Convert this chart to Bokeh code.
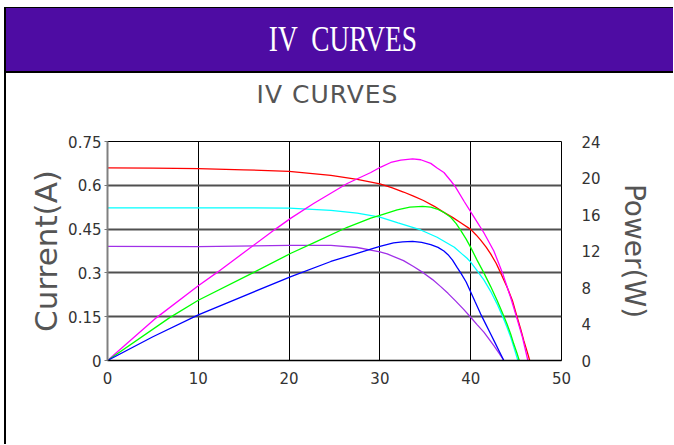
from bokeh.plotting import figure
from bokeh.models import Range1d, LinearAxis, FixedTicker, NumeralTickFormatter, Div
from bokeh.layouts import column, row
from bokeh.embed import file_html
from bokeh.resources import INLINE

# ---------------- data ----------------
voltage_ticks = [0, 10, 20, 30, 40, 50]
current_ticks = [0, 0.15, 0.3, 0.45, 0.6, 0.75]
power_ticks = [0, 4, 8, 12, 16, 20, 24]

# I-V curves (voltage V, current A)
red_v = [0, 5, 10, 15, 20, 24.6, 27.5, 30, 31.3, 32.6, 33.7, 34.8, 36.0, 37.0, 38.0, 38.9, 40.0, 40.6, 41.1,
         41.7, 42.2, 42.8, 43.3, 44.0, 44.6, 45.1, 45.5, 45.85, 46.2, 46.5]
red_i = [0.660, 0.659, 0.657, 0.653, 0.648, 0.634, 0.620, 0.605, 0.592, 0.577, 0.563, 0.548, 0.528, 0.508, 0.490,
         0.472, 0.449, 0.430, 0.412, 0.388, 0.365, 0.333, 0.300, 0.252, 0.205, 0.150, 0.108, 0.068, 0.032, 0.0]

cyan_v = [0, 10, 20, 24.6, 27.5, 30, 32, 34.5, 36.3, 37.2, 38.2, 39.0, 39.6, 40.0, 40.7, 41.45, 42.2, 42.9,
          43.5, 44.0, 44.4, 44.75, 45.2]
cyan_i = [0.523, 0.523, 0.522, 0.514, 0.505, 0.491, 0.471, 0.447, 0.422, 0.406, 0.388, 0.366, 0.350, 0.337,
          0.308, 0.276, 0.237, 0.194, 0.152, 0.114, 0.080, 0.046, 0.0]

violet_v = [0, 10, 20, 24.6, 27.5, 30, 30.8, 32.6, 33.7, 34.8, 35.8, 36.7, 37.5, 38.3, 39.2, 40.0, 40.7, 41.45,
            42.0, 42.55, 43.1, 43.65]
violet_i = [0.391, 0.390, 0.394, 0.394, 0.387, 0.372, 0.365, 0.342, 0.322, 0.300, 0.277, 0.253, 0.230, 0.205,
            0.176, 0.148, 0.123, 0.097, 0.074, 0.051, 0.026, 0.0]

# P-V curves (voltage V, power W)
magenta_v = [0, 5.4, 10, 12, 18.5, 20.2, 22.7, 26.4, 29, 30.1, 31.2, 32.3, 33.6, 34.5, 35.6, 36.3, 37.05, 37.8,
             38.3, 39.3, 40.35, 41.45, 42.55, 43.5, 44.4, 45.05, 45.7, 46.3]
magenta_p = [0, 4.7, 8.2, 9.6, 14.4, 15.6, 17.2, 19.4, 20.6, 21.2, 21.7, 21.95, 22.1, 22.0, 21.6, 21.1, 20.6, 19.7,
             19.05, 17.4, 15.75, 14.0, 12.0, 9.6, 6.9, 4.75, 2.55, 0]

green_v = [0, 6.85, 10, 16, 20.2, 22.7, 26.4, 29, 30, 31.9, 33.3, 34.7, 35.6, 36.3, 37.1, 37.8, 38.4, 38.9, 39.5,
           40, 40.7, 41.45, 42.2, 42.9, 43.5, 44.0, 44.4, 44.75, 45.1, 45.35]
green_p = [0, 4.7, 6.6, 9.6, 11.75, 12.9, 14.6, 15.6, 15.9, 16.5, 16.8, 16.9, 16.8, 16.6, 16.2, 15.7, 15.0, 14.25,
           13.3, 12.4, 11.0, 9.6, 8.1, 6.6, 5.2, 4.0, 2.9, 1.8, 0.8, 0]

blue_v = [0, 5, 10, 20.2, 24.6, 29, 30, 31.5, 32.5, 33.6, 34.6, 35.6, 36.4, 37.05, 37.5, 38.0, 38.5, 38.9, 39.5,
          40, 40.5, 41.1, 41.6, 42.2, 42.7, 43.1, 43.65]
blue_p = [0, 2.6, 5.0, 9.2, 10.85, 12.2, 12.5, 12.9, 13.0, 13.05, 12.95, 12.7, 12.4, 12.0, 11.6, 11.0, 10.2, 9.6,
          8.6, 7.5, 6.4, 5.1, 4.1, 2.9, 1.9, 1.1, 0]

header_title = "IV&nbsp;&nbsp;CURVES"
chart_title = "IV CURVES"

W = 667  # content width right of the left border line

# ---------------- header band ----------------
header = Div(
    text='<span style="display:inline-block;transform:scaleX(0.78);margin-left:6px;">' + header_title + '</span>',
    width=W, height=66, margin=0,
    styles={
        "box-sizing": "border-box",
        "background-color": "#4e0ca3",
        "border-top": "1px solid #000",
        "border-bottom": "2px solid #000",
        "color": "#ffffff",
        "font-family": "'Liberation Serif'",
        "font-size": "35px",
        "text-align": "center",
        "line-height": "63px",
        "overflow": "hidden",
    },
)

# ---------------- chart title ----------------
title_div = Div(
    text=chart_title,
    width=W, height=42, margin=0,
    styles={
        "box-sizing": "border-box",
        "background-color": "#ffffff",
        "color": "#555555",
        "font-family": "'DejaVu Sans'",
        "font-size": "25px",
        "letter-spacing": "1px",
        "text-align": "center",
        "line-height": "44px",
        "padding-right": "24px",
        "overflow": "hidden",
    },
)

left_line = Div(text="", width=2, height=437, margin=0, styles={"background-color": "#000000"})

# ---------------- chart ----------------
p = figure(
    width=W, height=329,
    x_range=Range1d(0, 50), y_range=Range1d(0, 0.75),
    output_backend="svg", toolbar_location=None,
    min_border_left=101, min_border_right=112, min_border_top=26, min_border_bottom=84,
)
p.extra_y_ranges = {"power": Range1d(0, 24)}

p.background_fill_color = "white"
p.border_fill_color = "white"
p.outline_line_color = "black"
p.outline_line_width = 1

TEXT = "#333333"
LABEL = "#555555"

# x axis
xa = p.xaxis[0]
xa.ticker = FixedTicker(ticks=voltage_ticks)
xa.major_tick_line_color = None
xa.minor_tick_line_color = None
xa.major_tick_out = 0
xa.major_label_standoff = 11
xa.major_label_text_font = "DejaVu Sans"
xa.major_label_text_font_size = "15px"
xa.major_label_text_color = TEXT
xa.axis_line_color = "black"
xa.axis_line_width = 1.5

# left axis
ya = p.yaxis[0]
ya.ticker = FixedTicker(ticks=current_ticks)
ya.formatter = NumeralTickFormatter(format="0.[00]")
ya.axis_label = "Current(A)"
ya.axis_label_text_font = "DejaVu Sans"
ya.axis_label_text_font_size = "31px"
ya.axis_label_text_font_style = "normal"
ya.axis_label_text_color = LABEL
ya.axis_label_standoff = 1
ya.major_tick_line_color = "#777777"
ya.major_tick_out = 3
ya.major_tick_in = 0
ya.minor_tick_line_color = None
ya.major_label_standoff = 3
ya.major_label_text_font = "DejaVu Sans"
ya.major_label_text_font_size = "15px"
ya.major_label_text_color = TEXT
ya.axis_line_color = "#808080"
ya.axis_line_width = 2

# right axis
ra = LinearAxis(y_range_name="power", ticker=FixedTicker(ticks=power_ticks), axis_label="Power(W)")
ra.axis_label_text_font = "DejaVu Sans"
ra.axis_label_text_font_size = "28px"
ra.axis_label_text_font_style = "normal"
ra.axis_label_text_color = LABEL
ra.axis_label_standoff = 14
ra.major_tick_line_color = None
ra.minor_tick_line_color = None
ra.major_tick_out = 0
ra.major_tick_in = 0
ra.major_label_standoff = 20
ra.major_label_text_font = "DejaVu Sans"
ra.major_label_text_font_size = "15px"
ra.major_label_text_color = TEXT
ra.axis_line_color = None
p.add_layout(ra, "right")

# grid
p.xgrid.grid_line_color = "black"
p.xgrid.grid_line_width = 1
p.ygrid.grid_line_color = "#505050"
p.ygrid.grid_line_width = 2

# curves
LW = 1.3
p.line(red_v, red_i, line_color="#ff0000", line_width=LW)
p.line(cyan_v, cyan_i, line_color="#00ffff", line_width=LW)
p.line(violet_v, violet_i, line_color="#a030e8", line_width=LW)
p.line(magenta_v, magenta_p, line_color="#ff00ff", line_width=LW, y_range_name="power")
p.line(green_v, green_p, line_color="#00ff00", line_width=LW, y_range_name="power")
p.line(blue_v, blue_p, line_color="#0000ff", line_width=LW, y_range_name="power")

layout = row(left_line, column(header, title_div, p, spacing=0), spacing=0, margin=(7, 0, 0, 4))

open("out.html", "w").write(file_html(layout, INLINE))
